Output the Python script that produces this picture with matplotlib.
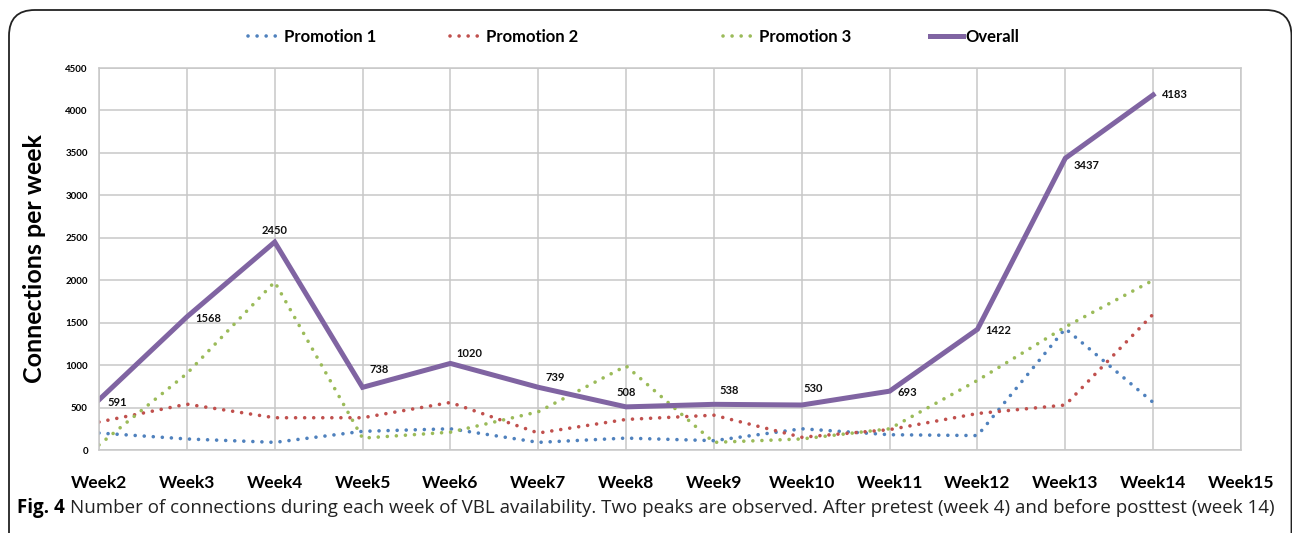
import matplotlib.pyplot as plt
from matplotlib.patches import FancyBboxPatch

# Data
weeks = ['Week2', 'Week3', 'Week4', 'Week5', 'Week6', 'Week7', 'Week8',
         'Week9', 'Week10', 'Week11', 'Week12', 'Week13', 'Week14', 'Week15']
promo1 = [200, 130, 90, 220, 250, 90, 140, 110, 250, 180, 170, 1430, 560]
promo2 = [330, 540, 380, 380, 560, 200, 360, 410, 150, 240, 430, 530, 1600]
promo3 = [60, 900, 1980, 140, 210, 450, 990, 90, 130, 250, 820, 1450, 2000]
overall = [591, 1568, 2450, 738, 1020, 739, 508, 538, 530, 693, 1422, 3437, 4183]

# Label offsets (points) for the overall values
label_offsets = [(6, -2), (6, -1), (0, 8), (5, 13), (4, 7), (5, 7), (0, 10),
                 (4, 10), (1, 12), (6, -1), (6, -1), (6, -5), (6, 0)]

BLUE = '#4F81BD'
RED = '#C0504D'
GREEN = '#9BBB59'
PURPLE = '#8064A2'
GRID = '#C8C8C8'
BOLD = ['Lato', 'DejaVu Sans']

fig = plt.figure(figsize=(12.92, 5.33), dpi=100)
ax = fig.add_axes([99 / 1292, 1 - 450 / 533, 1142 / 1292, 382 / 533])

x = list(range(len(overall)))
dot = (0, (0.01, 2.5))
l1, = ax.plot(x, promo1, color=BLUE, lw=2.6, linestyle=dot, dash_capstyle='round')
l2, = ax.plot(x, promo2, color=RED, lw=2.6, linestyle=dot, dash_capstyle='round')
l3, = ax.plot(x, promo3, color=GREEN, lw=2.6, linestyle=dot, dash_capstyle='round')
l4, = ax.plot(x, overall, color=PURPLE, lw=3.6, solid_joinstyle='miter')

for xi, v, off in zip(x, overall, label_offsets):
    ha = 'center' if off[0] == 0 else 'left'
    ax.annotate(str(v), (xi, v), xytext=off, textcoords='offset points',
                ha=ha, va='center', fontsize=8, fontweight='bold',
                family=BOLD, color='#111111')

ax.set_xlim(0, len(weeks) - 1)
ax.set_ylim(0, 4500)
ax.set_xticks(range(len(weeks)))
ax.set_xticklabels(weeks)
ax.set_yticks(range(0, 4501, 500))
ax.grid(True, color=GRID, linewidth=1.1)
ax.set_axisbelow(True)
for s in ax.spines.values():
    s.set_color(GRID)
    s.set_linewidth(1.1)
ax.tick_params(axis='both', length=0)
ax.tick_params(axis='x', pad=18)
ax.tick_params(axis='y', pad=8)
for t in ax.get_xticklabels():
    t.set_fontsize(12.5)
    t.set_fontweight('bold')
    t.set_family(BOLD)
for t in ax.get_yticklabels():
    t.set_fontsize(7)
    t.set_fontweight('bold')
    t.set_family(BOLD)

ax.set_ylabel('Connections per week', fontsize=18, fontweight='bold', family=BOLD)
ax.yaxis.set_label_coords(-0.046, 0.5)

# Legend entries placed like the original
handles = [l1, l2, l3, l4]
names = ['Promotion 1', 'Promotion 2', 'Promotion 3', 'Overall']
legend_x = [248, 450, 723, 930]
for h, n, lx in zip(handles, names, legend_x):
    leg = fig.legend([h], [n], loc='center left', bbox_to_anchor=(lx / 1292, 1 - 37 / 533),
                     frameon=False, handlelength=2.0, handletextpad=0.15,
                     borderpad=0, borderaxespad=0,
                     prop={'family': BOLD, 'weight': 'bold', 'size': 12})

# Rounded frame
frame = FancyBboxPatch((9 / 1292, -0.2), 1282.5 / 1292, 1.2 - 10 / 533,
                       boxstyle='round,pad=0,rounding_size=0.02',
                       transform=fig.transFigure, fill=False,
                       edgecolor='#222222', linewidth=1.3, mutation_aspect=1292 / 533)
fig.patches.append(frame)

# Caption
cap_y = 1 - 508 / 533
t1 = fig.text(17 / 1292, cap_y, 'Fig. 4', fontsize=13.5, fontweight='bold',
              family=['Open Sans', 'DejaVu Sans'], va='center', ha='left')
fig.canvas.draw()
r = fig.canvas.get_renderer()
bb = t1.get_window_extent(r)
fig.text((bb.x1 + 5) / 1292, cap_y,
         'Number of connections during each week of VBL availability. Two peaks are observed. '
         'After pretest (week 4) and before posttest (week 14)',
         fontsize=13.5, family=['Open Sans', 'DejaVu Sans'], va='center', ha='left',
         color='#222222')

fig.savefig('out.png', dpi=100)
